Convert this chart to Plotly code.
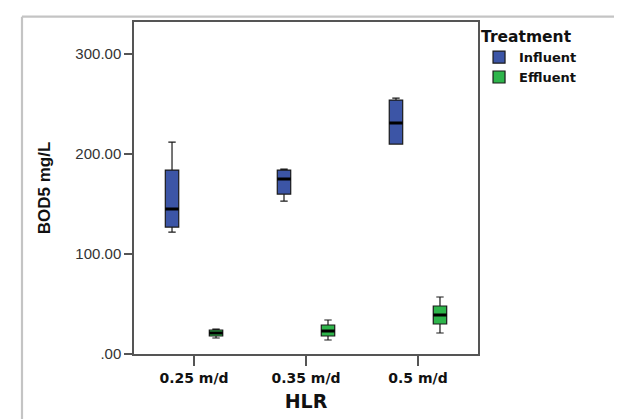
import plotly.graph_objects as go

categories = ["0.25 m/d", "0.35 m/d", "0.5 m/d"]

# Influent box statistics
inf_min = [122, 153, 210]
inf_q1 = [127, 160, 210]
inf_med = [145, 175, 231]
inf_q3 = [184, 184, 254]
inf_max = [212, 185, 256]

# Effluent box statistics
eff_min = [16, 14, 21]
eff_q1 = [18, 18, 30]
eff_med = [21, 23, 39]
eff_q3 = [24, 29, 48]
eff_max = [25, 34, 57]

y_tickvals = [0, 100, 200, 300]
y_ticktext = [".00", "100.00", "200.00", "300.00"]

REG = "Liberation Sans, Arial, sans-serif"
BOLD = "DejaVu Sans, sans-serif"

fig = go.Figure()


def add_group(name, med, q1, q3, lo, hi, fill):
    fig.add_trace(go.Box(
        name=name, x=categories, q1=q1, median=med, q3=q3,
        lowerfence=lo, upperfence=hi, offsetgroup=name,
        fillcolor=fill, line=dict(color="#1a1a1a", width=1.2),
        whiskerwidth=0.55, boxpoints=False,
    ))
    # thick median bar, SPSS style
    fig.add_trace(go.Box(
        name=name, x=categories, q1=med, median=med, q3=med,
        lowerfence=med, upperfence=med, offsetgroup=name,
        fillcolor="rgba(0,0,0,0)", line=dict(color="#000000", width=3),
        whiskerwidth=0, boxpoints=False, showlegend=False, hoverinfo="skip",
    ))


add_group("Influent", inf_med, inf_q1, inf_q3, inf_min, inf_max, "#3C55A6")
add_group("Effluent", eff_med, eff_q1, eff_q3, eff_min, eff_max, "#2EB54B")

fig.update_layout(
    width=622, height=419,
    margin=dict(l=126, r=152, t=12, b=73),
    paper_bgcolor="white", plot_bgcolor="white",
    boxmode="group", boxgap=0.214, boxgroupgap=0.695,
    font=dict(family=REG, color="#111111"),
    showlegend=True,
    legend=dict(
        title=dict(text="Treatment", font=dict(size=15.5, family=BOLD, weight="bold")),
        font=dict(size=13, family=BOLD, weight="bold"),
        x=1.003, xanchor="left", y=1.0, yanchor="top",
        bgcolor="rgba(0,0,0,0)",
        tracegroupgap=0, itemwidth=30,
    ),
    xaxis=dict(
        type="category", range=[-0.536, 2.536],
        showline=True, linecolor="#555555", linewidth=1.5, mirror=True,
        ticks="outside", ticklen=10, tickcolor="#555555", tickwidth=1.5,
        tickfont=dict(size=14, family=BOLD, weight="bold"),
        showgrid=False, zeroline=False,
        title=dict(text="HLR", font=dict(size=19, family=BOLD, weight="bold"), standoff=10),
    ),
    yaxis=dict(
        range=[0, 332.1],
        tickvals=y_tickvals, ticktext=y_ticktext,
        showline=True, linecolor="#555555", linewidth=1.5, mirror=True,
        ticks="outside", ticklen=8, tickcolor="#555555", tickwidth=1.5,
        tickfont=dict(size=15, family=REG, color="#333333"),
        showgrid=False, zeroline=False,
        title=dict(text="BOD5 mg/L", font=dict(size=17, family=REG, weight="bold"), standoff=20),
    ),
    shapes=[
        dict(type="line", xref="paper", yref="paper", x0=-0.3256, x1=1.6, y0=1.016, y1=1.016,
             line=dict(color="#C4C4C4", width=2.2)),
        dict(type="line", xref="paper", yref="paper", x0=-0.3256, x1=-0.3256, y0=-0.3, y1=1.016,
             line=dict(color="#C4C4C4", width=2.2)),
    ],
)

fig.write_html("out.html")
